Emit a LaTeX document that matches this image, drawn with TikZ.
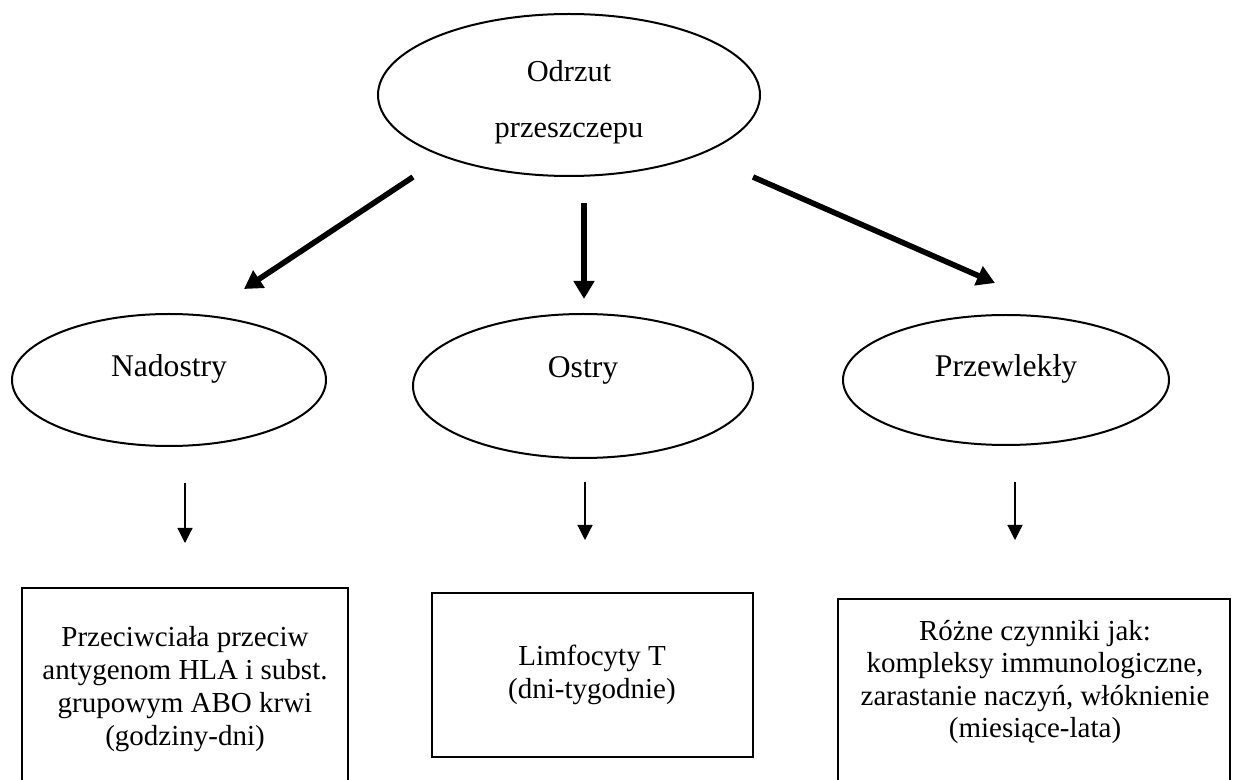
\documentclass[tikz,border=0pt]{standalone}
\usepackage{fontspec}
\setmainfont{Liberation Serif}
\usetikzlibrary{shapes.geometric}
\usetikzlibrary{arrows.meta}

\begin{document}
\begin{tikzpicture}[x=0.5pt,y=-0.5pt,font=\fontsize{14.5}{16.2}\selectfont,
	oval/.style={ellipse,draw=black,line width=1pt,inner sep=0pt,outer sep=0pt},
	ovaltxt/.style={font=\fontsize{15.8}{18}\selectfont},
	frame/.style={rectangle,draw=black,line width=1.2pt,inner sep=0pt,outer sep=0pt,anchor=north west},
	bigarrow/.style={line width=2.8pt,-{Triangle[length=9pt,width=10pt]}},
	smallarrow/.style={line width=0.6pt,-{Triangle[length=7.5pt,width=7.5pt]}}]
	\clip (0,0) rectangle (1238,780);

	\node [oval,minimum width=191pt,minimum height=81pt] at (569,95) (odrzut) {};
	\node [align=center,font=\fontsize{15.2}{28}\selectfont] at (569,102) (odrzut_txt) {Odrzut\\przeszczepu};

	\node [oval,minimum width=157pt,minimum height=66pt] at (169,380) (nad) {};
	\node [ovaltxt] at (169,369) (nad_txt) {Nadostry};
	\node [oval,minimum width=170pt,minimum height=72pt] at (583,386) (ostry) {};
	\node [ovaltxt] at (583,370) (ostry_txt) {Ostry};
	\node [oval,minimum width=163pt,minimum height=65pt] at (1006,380) (przew) {};
	\node [ovaltxt] at (1006,369) (przew_txt) {Przewlekły};

	\node [frame,minimum width=163pt,minimum height=100pt] at (22,588) (nad_box) {};
	\node [align=center,font=\fontsize{14.5}{16.5}\selectfont] at (185,689) (nad_box_txt) {Przeciwciała przeciw\\antygenom HLA i subst.\\grupowym ABO krwi\\(godziny-dni)};
	\node [frame,minimum width=160.5pt,minimum height=82pt] at (432,593) (ostry_box) {};
	\node [align=center] at (592,675) (ostry_box_txt) {Limfocyty T\\(dni-tygodnie)};
	\node [frame,minimum width=196pt,minimum height=100pt] at (838,599) (przew_box) {};
	\node [align=center] at (1035,682) (przew_box_txt) {Różne czynniki jak:\\kompleksy immunologiczne,\\zarastanie naczyń, włóknienie\\(miesiące-lata)};

	% grube strzalki
	\coordinate (a_nad_s) at (413,177);
	\coordinate (a_nad_e) at (244,289);
	\coordinate (a_ostry_s) at (584,203);
	\coordinate (a_ostry_e) at (584,299);
	\coordinate (a_przew_s) at (753,177);
	\coordinate (a_przew_e) at (995,283);
	\draw[bigarrow] (a_nad_s) -- (a_nad_e);
	\draw[bigarrow] (a_ostry_s) -- (a_ostry_e);
	\draw[bigarrow] (a_przew_s) -- (a_przew_e);

	% cienkie strzalki
	\coordinate (b_nad_s) at (185,483);
	\coordinate (b_nad_e) at (185,543);
	\coordinate (b_ostry_s) at (585,482);
	\coordinate (b_ostry_e) at (585,540);
	\coordinate (b_przew_s) at (1015,482);
	\coordinate (b_przew_e) at (1015,540);
	\draw[smallarrow] (b_nad_s) -- (b_nad_e);
	\draw[smallarrow] (b_ostry_s) -- (b_ostry_e);
	\draw[smallarrow] (b_przew_s) -- (b_przew_e);
\end{tikzpicture}
\end{document}
